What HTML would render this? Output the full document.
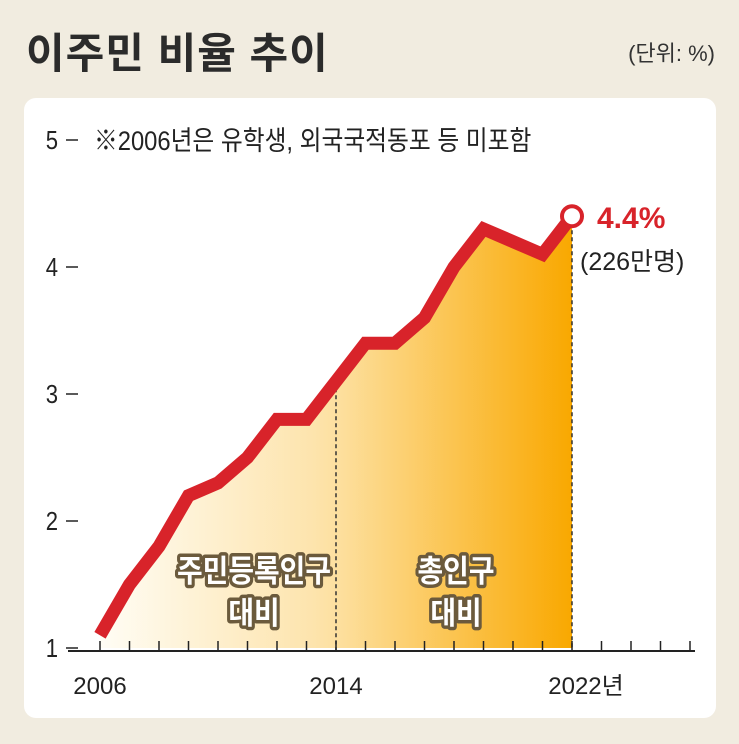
<!DOCTYPE html>
<html><head><meta charset="utf-8">
<style>
body{margin:0;width:739px;height:744px;background:#f1ece0;font-family:"Liberation Sans","Noto Sans CJK KR",sans-serif;overflow:hidden;position:relative}
.title{position:absolute;left:26px;top:20px;font-size:42px;font-weight:bold;color:#2b2b2b;letter-spacing:1px}
.unit{position:absolute;right:24px;top:36px;font-size:22px;color:#333}
.card{position:absolute;left:24px;top:98px;width:692px;height:620px;background:#fff;border-radius:12px}
svg{position:absolute;left:0;top:0}
</style></head><body>
<div class="title">이주민 비율 추이</div>
<div class="unit">(단위: %)</div>
<div class="card"></div>
<svg id="chart" width="739" height="744">
<defs>
<linearGradient id="g1" x1="0" x2="1" y1="0" y2="0">
<stop offset="0" stop-color="#fffdf5"/><stop offset="0.45" stop-color="#fde4ad"/><stop offset="0.5" stop-color="#fde0a0"/><stop offset="1" stop-color="#f9a800"/>
</linearGradient>
</defs>
</svg>
<script>
const years=[2006,2007,2008,2009,2010,2011,2012,2013,2014,2015,2016,2017,2018,2019,2020,2021,2022];
const values=[1.1,1.5,1.8,2.2,2.3,2.5,2.8,2.8,3.1,3.4,3.4,3.6,4.0,4.3,4.2,4.1,4.4];
const yTicks=[1,2,3,4,5];
const xLabels=[2006,2014,2022];
const NS="http://www.w3.org/2000/svg";
const svg=document.getElementById('chart');
const x=y=>100+(y-2006)*29.5;
const yS=v=>648-(v-1)*127;
function mk(t,a,p){const e=document.createElementNS(NS,t);for(const k in a)e.setAttribute(k,a[k]);(p||svg).appendChild(e);return e;}
let d=`M${x(years[0])},${yS(1)} `+years.map((yr,i)=>`L${x(yr)},${yS(values[i])}`).join(' ')+` L${x(years[years.length-1])},${yS(1)} Z`;
let area=mk('path',{d:d,fill:'url(#g1)'});


[2014,2022].forEach((yr)=>{const i=years.indexOf(yr);let l=mk('line',{x1:x(yr),x2:x(yr),y1:yS(values[i]),y2:651,stroke:'#333','stroke-width':1.5,'stroke-dasharray':'4,3'});

});
let ax=mk('line',{x1:68,x2:695,y1:651,y2:651,stroke:'#222','stroke-width':2});


for(let yr=2006;yr<=2026;yr++){let t=mk('line',{x1:x(yr),x2:x(yr),y1:641,y2:651,stroke:'#222','stroke-width':1.5});

}
xLabels.forEach(v=>{let t=mk('text',{x:x(v),y:694,'font-size':24,fill:'#222','text-anchor':'middle'});t.textContent=v+(v===2022?'년':'');
if(v===2022){t.setAttribute('x',x(v)+14);}

});
yTicks.forEach(v=>{let t=mk('text',{x:58,y:yS(v)+9,'font-size':26,fill:'#222','text-anchor':'end',transform:`translate(58,0) scale(0.85,1) translate(-58,0)`});t.textContent=v;


let l=mk('line',{x1:66,x2:78,y1:yS(v),y2:yS(v),stroke:'#222','stroke-width':1.5});

});
let note=mk('text',{x:94,y:yS(5)+10,'font-size':27,fill:'#222',transform:'translate(94,0) scale(0.88,1) translate(-94,0)'});note.textContent='※2006년은 유학생, 외국국적동포 등 미포함';


let ln=mk('polyline',{points:years.map((yr,i)=>x(yr)+','+yS(values[i])).join(' '),fill:'none',stroke:'#d8232a','stroke-width':13,'stroke-linejoin':'miter','stroke-linecap':'butt'});


const li=years.length-1;
let c=mk('circle',{cx:x(years[li]),cy:yS(values[li]),r:10,fill:'#fff',stroke:'#d8232a','stroke-width':4});


let v1=mk('text',{x:597,y:228,'font-size':30,'font-weight':'bold',fill:'#d8232a'});v1.textContent=values[li]+'%';


let v2=mk('text',{x:580,y:270,'font-size':25,fill:'#222'});v2.textContent='(226만명)';


[['주민등록인구',254,582],['대비',254,624],['총인구',456,582],['대비',456,624]].forEach(a=>{let t=mk('text',{x:a[1],y:a[2],'font-size':31,'font-weight':'bold',fill:'#fff','text-anchor':'middle',stroke:'#6b5a3c','stroke-width':7,'paint-order':'stroke','stroke-linejoin':'round',transform:`translate(${a[1]},0) scale(0.9,1) translate(${-a[1]},0)`});t.textContent=a[0];

});
</script>
</body></html>
